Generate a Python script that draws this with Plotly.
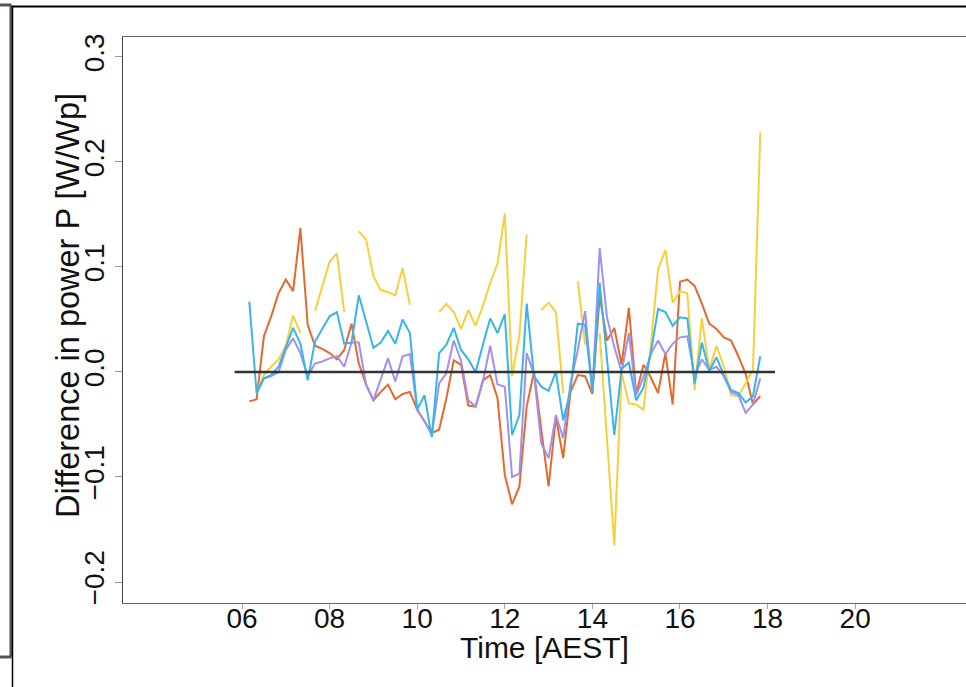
import plotly.graph_objects as go

# ---- data -------------------------------------------------------------
time_labels = [
    "06:10", "06:20", "06:30", "06:40", "06:50",
    "07:00", "07:10", "07:20", "07:30", "07:40", "07:50",
    "08:00", "08:10", "08:20", "08:30", "08:40", "08:50",
    "09:00", "09:10", "09:20", "09:30", "09:40", "09:50",
    "10:00", "10:10", "10:20", "10:30", "10:40", "10:50",
    "11:00", "11:10", "11:20", "11:30", "11:40", "11:50",
    "12:00", "12:10", "12:20", "12:30", "12:40", "12:50",
    "13:00", "13:10", "13:20", "13:30", "13:40", "13:50",
    "14:00", "14:10", "14:20", "14:30", "14:40", "14:50",
    "15:00", "15:10", "15:20", "15:30", "15:40", "15:50",
    "16:00", "16:10", "16:20", "16:30", "16:40", "16:50",
    "17:00", "17:10", "17:20", "17:30", "17:40", "17:50",
]

N = None
orange = [
    -0.028, -0.026, 0.034, 0.053, 0.075, 0.088, 0.077, 0.137, 0.045, 0.025,
    0.022, 0.018, 0.012, 0.021, 0.046, 0.008, -0.012, -0.027, -0.019, -0.012,
    -0.026, -0.021, -0.019, -0.036, -0.047, -0.058, -0.055, -0.025, 0.011, 0.007,
    -0.032, -0.033, -0.008, -0.003, -0.025, -0.098, -0.126, -0.109, -0.033, 0.000,
    -0.055, -0.109, -0.043, -0.082, -0.019, -0.003, -0.004, -0.021, 0.072, 0.030,
    0.042, 0.007, 0.061, -0.021, 0.007, -0.005, -0.020, 0.018, -0.031, 0.086,
    0.088, 0.082, 0.065, 0.046, 0.041, 0.033, 0.030, 0.015, -0.002, -0.031,
    -0.023,
]
yellow = [
    N, -0.020, -0.003, 0.005, 0.012, 0.025, 0.054, 0.037, N, 0.058,
    0.082, 0.105, 0.113, 0.057, N, 0.134, 0.126, 0.091, 0.078, 0.076,
    0.073, 0.099, 0.064, N, N, N, 0.057, 0.065, 0.057, 0.041,
    0.059, 0.044, 0.063, 0.085, 0.103, 0.151, -0.004, 0.035, 0.131, N,
    0.059, 0.066, 0.057, -0.020, N, 0.086, 0.026, N, 0.037, -0.065,
    -0.165, -0.001, -0.030, -0.031, -0.036, 0.025, 0.098, 0.116, 0.066, 0.077,
    0.075, -0.017, 0.051, 0.002, 0.025, 0.005, -0.022, -0.023, -0.011, 0.002,
    0.228,
]
purple = [
    N, -0.020, -0.006, -0.004, 0.000, 0.021, 0.032, 0.018, -0.004, 0.008,
    0.010, 0.013, 0.015, 0.005, 0.028, 0.028, -0.012, -0.027, -0.008, 0.013,
    -0.009, 0.015, 0.017, -0.036, -0.047, -0.060, -0.011, -0.001, 0.030, 0.011,
    -0.027, -0.033, -0.009, 0.025, -0.012, -0.014, -0.100, -0.097, 0.018, -0.002,
    -0.068, -0.082, -0.041, -0.063, -0.011, 0.021, 0.058, -0.019, 0.118, 0.052,
    0.024, 0.000, 0.037, -0.022, -0.005, 0.017, 0.030, 0.017, 0.027, 0.033,
    0.034, -0.004, 0.012, 0.002, 0.005, -0.004, -0.019, -0.022, -0.039, -0.031,
    -0.006,
]
blue = [
    0.067, -0.020, -0.006, -0.003, 0.005, 0.024, 0.042, 0.027, -0.008, 0.029,
    0.041, 0.053, 0.057, 0.027, 0.028, 0.073, 0.048, 0.023, 0.028, 0.039,
    0.027, 0.050, 0.037, -0.036, -0.022, -0.062, 0.018, 0.026, 0.042, 0.021,
    0.012, 0.000, 0.026, 0.051, 0.037, 0.055, -0.060, -0.041, 0.065, -0.004,
    -0.014, -0.018, 0.000, -0.046, -0.018, 0.046, 0.045, -0.019, 0.085, 0.012,
    -0.060, 0.003, 0.009, -0.027, -0.015, 0.018, 0.060, 0.057, 0.044, 0.052,
    0.051, -0.011, 0.028, 0.001, 0.014, -0.003, -0.017, -0.020, -0.029, -0.023,
    0.015,
]

zero_x = [5.83, 18.17]
zero_y = [0.0, 0.0]

x_tick_vals = [6, 8, 10, 12, 14, 16, 18, 20]
x_tick_text = ["06", "08", "10", "12", "14", "16", "18", "20"]
y_tick_vals = [-0.2, -0.1, 0.0, 0.1, 0.2, 0.3]
y_tick_text = ["\u22120.2", "\u22120.1", "0.0", "0.1", "0.2", "0.3"]

# ---- helpers ----------------------------------------------------------
hours = [int(t[:2]) + int(t[3:]) / 60 for t in time_labels]

W, H = 966, 687
L, R, T, B = 123, 0, 37, 84
pw, ph = W - L - R, H - T - B


def px(xp):
    return (xp - L) / pw


def py(yp):
    return (H - B - yp) / ph


FONT = "Liberation Sans, Arial, Helvetica, sans-serif"

fig = go.Figure()
series = [
    (orange, "#E3692E"),
    (yellow, "#F6D03C"),
    (purple, "#A090F0"),
    (blue, "#38B5E8"),
]
for vals, col in series:
    fig.add_trace(go.Scatter(x=hours, y=vals, mode="lines",
                             line=dict(color=col, width=2),
                             connectgaps=False, hoverinfo="skip"))

fig.add_trace(go.Scatter(x=zero_x, y=zero_y, mode="lines",
                         line=dict(color="#333333", width=2.5),
                         hoverinfo="skip"))

fig.update_layout(
    width=W, height=H,
    margin=dict(l=L, r=R, t=T, b=B, pad=0),
    paper_bgcolor="white", plot_bgcolor="white",
    showlegend=False,
    font=dict(family=FONT, color="#111111"),
    xaxis=dict(range=[3.283, 22.53], tickvals=x_tick_vals, ticktext=x_tick_text,
               showgrid=False, zeroline=False, showline=True, mirror=True,
               linecolor="#666666", linewidth=1.2,
               ticks="outside", ticklen=5, tickcolor="#aaaaaa", tickwidth=1,
               ticklabelstandoff=-15,
               tickfont=dict(size=28, family=FONT, color="#111111")),
    yaxis=dict(range=[-0.22, 0.319], tickvals=y_tick_vals, ticktext=y_tick_text,
               showgrid=False, zeroline=False, showline=True, mirror=False,
               linecolor="#444444", linewidth=1.2,
               ticks="outside", ticklen=7, tickcolor="#999999", tickwidth=1,
               tickangle=-90,
               tickfont=dict(size=28, family=FONT, color="#111111")),
    annotations=[
        dict(text="Time [AEST]", xref="paper", yref="paper",
             x=0.5, y=py(648), xanchor="center", yanchor="middle",
             showarrow=False, font=dict(size=30, family=FONT, color="#111111")),
        dict(text="Difference in power P [W/Wp]", xref="paper", yref="paper",
             x=px(68), y=py(306), xanchor="center", yanchor="middle",
             textangle=-90, showarrow=False,
             font=dict(size=32.5, family=FONT, color="#111111")),
    ],
    shapes=[
        # left grey panel edge
        dict(type="line", xref="paper", yref="paper",
             x0=px(0), x1=px(11.5), y0=py(5), y1=py(5),
             line=dict(color="#50565c", width=3)),
        dict(type="line", xref="paper", yref="paper",
             x0=px(11), x1=px(11), y0=py(5), y1=py(657),
             line=dict(color="#50565c", width=3)),
        dict(type="line", xref="paper", yref="paper",
             x0=px(0), x1=px(11.5), y0=py(657), y1=py(657),
             line=dict(color="#50565c", width=3)),
        # black frame line
        dict(type="line", xref="paper", yref="paper",
             x0=px(12.5), x1=px(12.5), y0=py(6), y1=py(690),
             line=dict(color="#000000", width=1.5)),
        dict(type="line", xref="paper", yref="paper",
             x0=px(12.5), x1=px(970), y0=py(6.5), y1=py(6.5),
             line=dict(color="#000000", width=2)),
    ],
)

fig.write_html(
    "out.html",
    config={"displayModeBar": False},
    post_script="document.body.style.margin='0';document.body.style.overflow='hidden';",
)
